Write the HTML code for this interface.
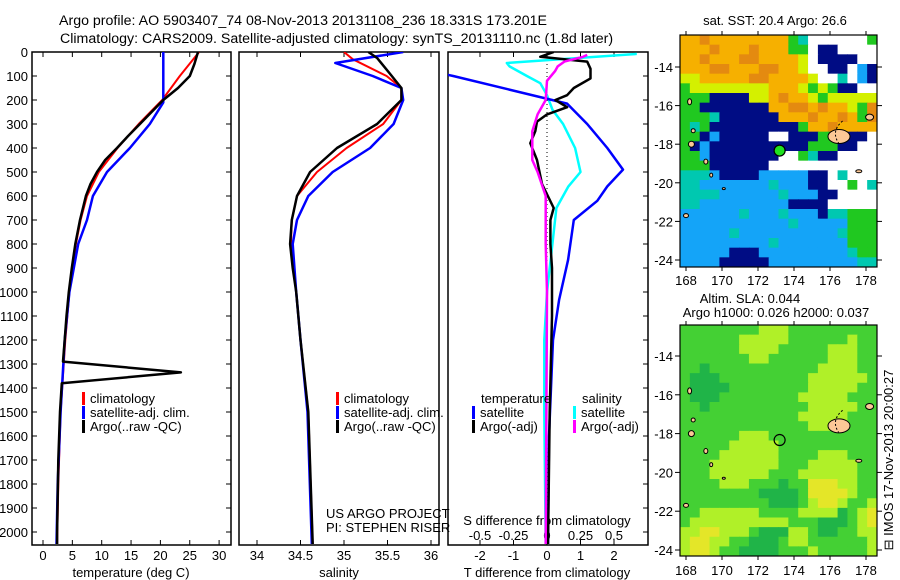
<!DOCTYPE html>
<html><head><meta charset="utf-8"><style>
html,body{margin:0;padding:0;background:#fff}
svg{display:block;font-family:"Liberation Sans",sans-serif}
</style></head><body>
<svg id="c" width="900" height="580" viewBox="0 0 900 580">
<defs>
<clipPath id="cp1"><rect x="32" y="52" width="199" height="493"/></clipPath>
<clipPath id="cp2"><rect x="239" y="52" width="200" height="493"/></clipPath>
<clipPath id="cp3"><rect x="448" y="52" width="200" height="493"/></clipPath>
<clipPath id="cm1"><rect x="680" y="35" width="197" height="232"/></clipPath>
<clipPath id="cm2"><rect x="680" y="325" width="197" height="231"/></clipPath>
</defs>
<text x="59" y="25" font-size="14.2">Argo profile: AO 5903407_74 08-Nov-2013 20131108_236 18.331S 173.201E</text>
<text x="60" y="43" font-size="14.2">Climatology: CARS2009. Satellite-adjusted climatology: synTS_20131110.nc (1.8d later)</text>
<g id="g"></g>
</svg>
<script>
// ---- data ----
const climDepth=[0,100,200,300,400,500,600,700,800,1000,1200,1500,1800,2050];
const climT=[26.6,23.3,20.3,16.3,12.7,9.5,7.5,6.4,5.6,4.5,3.8,3.0,2.6,2.4];
const satDepth=[0,210,300,400,500,600,700,800,1000,1200,1500,1800,2050];
const satT=[20.5,20.5,18.2,14.8,10.9,8.5,7.5,6.0,4.5,3.7,3.0,2.5,2.3];
const argoTDepth=[0,50,100,150,200,250,300,350,400,450,500,550,600,700,800,900,1000,1100,1200,1290,1335,1380,1500,1700,2000,2050];
const argoT=[26.4,25.8,25,23,20.5,18.5,16.5,14.5,12.6,10.6,9.2,8.1,7.3,6.3,5.5,4.9,4.4,4.0,3.7,3.4,23.5,3.2,2.9,2.6,2.4,2.4];
const climSDepth=[0,30,100,150,200,300,400,500,600,700,800,1000,1200,1500,2050];
const climS=[35.0,35.1,35.49,35.66,35.66,35.45,35.03,34.69,34.46,34.40,34.39,34.45,34.5,34.59,34.64];
const satSDepth=[0,46,100,150,200,300,400,500,600,700,800,1000,1200,1500,2050];
const satS=[35.68,34.9,35.33,35.66,35.68,35.57,35.3,34.87,34.59,34.46,34.41,34.45,34.5,34.58,34.63];
const argoSDepth=[0,25,100,150,200,300,400,500,600,700,800,900,1000,1200,1500,2050];
const argoS=[35.28,35.38,35.55,35.66,35.66,35.38,34.92,34.61,34.46,34.40,34.38,34.41,34.45,34.5,34.59,34.64];
const dTsatDepth=[0,100,215,300,400,490,560,620,700,866,1033,1200,1400,1600,2050];
const dTsat=[-6.1,-2.8,0.6,1.2,1.8,2.27,1.8,1.5,0.8,0.63,0.36,0.18,0.12,0.06,0.03];
const dTargoDepth=[0,20,40,70,110,150,180,200,230,260,290,330,380,450,550,650,700,800,900,1100,1500,2050];
const dTargo=[0.2,-0.2,1.2,1.3,1.3,0.8,0.6,0.25,0.6,0.0,-0.3,-0.35,-0.5,-0.3,-0.15,0.2,0.1,0.1,0.15,0.15,0.08,0.03];
const dSsatDepth=[8,46,60,100,130,180,240,300,400,500,560,650,800,1000,1200,1500,2050];
const dSsat=[0.67,-0.3,-0.28,-0.15,-0.05,0.0,0.04,0.12,0.21,0.25,0.16,0.07,0.04,0.0,-0.02,-0.02,-0.01];
const dSargoDepth=[12,20,40,60,80,120,200,260,330,400,450,500,600,800,1000,2050];
const dSargo=[0.3,0.27,0.13,0.08,0.06,0.0,-0.01,-0.07,-0.11,-0.11,-0.11,-0.07,-0.01,-0.01,0.0,-0.01];
const depthTicks=[0,100,200,300,400,500,600,700,800,900,1000,1100,1200,1300,1400,1500,1600,1700,1800,1900,2000];
const tTicks=[0,5,10,15,20,25,30];
const sTicks=[34,34.5,35,35.5,36];
const sTickLabels=["34","34.5","35","35.5","36"];
const dTTicks=[-2,-1,0,1,2];
const dSTicks=[-0.5,-0.25,0,0.25,0.5];
const dSTickLabels=["-0.5","-0.25","0","0.25","0.5"];
const lonTicks=[168,170,172,174,176,178];
const latTicks=[-14,-16,-18,-20,-22,-24];
const sstGrid=[
"ooOoooooooogcwwwwwwg","oooOoooOoooggwnnwwww","ooOoooOOooooywnnnnww","oooOOoooOOooywwnnwbn",
"yyoooooOOooooywwcwbn","gyyyyyyyyoooygygnnww","gggnnnnyyoOooygyyyyy","ggnnnnnnnooOOoOooygO",
"gggcnnnnnnoooOooOogO","gcgnnnnnnnnngooOooooO","ggnbnnnnnwwnnnggnnnw","gnbnnnnnnnnnngggnnww",
"ggbnnnnnnnwwgcnnwwww","gggnnnnnnwwwwwwwwwww","cccbnnnnbbbbbnnwcwww","ccbbbbbbbcbbbnnwwgwc",
"ccccbbbbbbcbbbnnwwww","ccbbbbbbbbbnnnnwwwww","bbbbbbcbbbcbbbnccggg","bbbbbbbbbbbcbbbbbggg",
"bbbbbcbbbbbbbbbbcggg","bbbbbbbbbcbbbbbbbggg","bbbbbnnnbbbbbbbbbcgg","bbbbnnnnnbbbbbbbbbcc"];
const slaGrid=[
"gggggggglllggggggggg","gggggglllllgggggglgg","ggggggllllggggglllgg","gggggggllgggggglllgg",
"ggdgggggggggggllllgg","gdddgggggggggllllllg","gddddgggggggglllllgg","gdddgggggggglllllggg",
"ggdgggggggggglllllgg","gggggggggggglllllggg","ggggggggggggglllgggg","gggggglllggggggggggg",
"ggggglllllgggggggggg","ggggllllllgggglllggg","ggglllllllggglllllgg","gggllllllgggllllllgg",
"gggglllgggdggyyyllgg","ggggggggddddgyyyylgg","gggggggggdddglyylggl","ggllllllgggglllldgly",
"gllllllllllgggdddgly","llyylllgdddllgddggll","lyyllggdddgllggggggl","lyylggddddggglgggggl"];
const argoLon=173.201, argoLat=-18.331;

// ---- helpers ----
const NS="http://www.w3.org/2000/svg";
const G=document.getElementById('g');
function mk(t,a,p){const e=document.createElementNS(NS,t);for(const k in a)e.setAttribute(k,a[k]);(p||G).appendChild(e);return e;}
const yD=d=>52+d*0.24;
const xT=v=>43+5.87*v;
const xS=v=>257+87*(v-34);
const xdT=v=>547+33.5*v;
const xdS=v=>547+134*v;
const m1x=lon=>686+18*(lon-168), m1y=lat=>67+19.3*(-14-lat);
const m2x=m1x, m2y=lat=>356+19.4*(-14-lat);
function line(xs,ds,fx,col,w,clip,name){
  const pts=xs.map((v,i)=>fx(v).toFixed(1)+','+yD(ds[i]).toFixed(1)).join(' ');
  const e=mk('polyline',{points:pts,fill:'none',stroke:col,'stroke-width':w,'clip-path':'url(#'+clip+')','stroke-linejoin':'round'});
  
  
}
function txt(x,y,s,opt){const e=mk('text',Object.assign({x:x,y:y,'font-size':13},opt||{}));e.textContent=s;return e;}

// ---- panel frames ----
const panels=[[32,231,'temperature-panel'],[239,439,'salinity-panel'],[448,648,'difference-panel']];
panels.forEach(p=>{const r=mk('rect',{x:p[0],y:52,width:p[1]-p[0],height:493,fill:'none',stroke:'#000','stroke-width':1.5});
 });
depthTicks.forEach(d=>{const y=yD(d);
 mk('line',{x1:32,x2:37,y1:y,y2:y,stroke:'#000'});mk('line',{x1:226,x2:231,y1:y,y2:y,stroke:'#000'});
 mk('line',{x1:643,x2:648,y1:y,y2:y,stroke:'#000'});
 const t=txt(28,y+5,String(d),{'text-anchor':'end'});
 });
tTicks.forEach(v=>{const x=xT(v);mk('line',{x1:x,x2:x,y1:545,y2:540,stroke:'#000'});mk('line',{x1:x,x2:x,y1:52,y2:57,stroke:'#000'});
 const t=txt(x,560,String(v),{'text-anchor':'middle'});});
sTicks.forEach((v,i)=>{const x=xS(v);mk('line',{x1:x,x2:x,y1:545,y2:540,stroke:'#000'});mk('line',{x1:x,x2:x,y1:52,y2:57,stroke:'#000'});
 const t=txt(x,560,sTickLabels[i],{'text-anchor':'middle'});});
dTTicks.forEach(v=>{const x=xdT(v);mk('line',{x1:x,x2:x,y1:545,y2:540,stroke:'#000'});mk('line',{x1:x,x2:x,y1:52,y2:57,stroke:'#000'});
 const t=txt(x,560,String(v),{'text-anchor':'middle'});});
dSTicks.forEach((v,i)=>{const x=xdS(v);
 const t=txt(x,540,dSTickLabels[i],{'text-anchor':'middle'});});
mk('line',{x1:547,x2:547,y1:52,y2:545,stroke:'#000','stroke-dasharray':'1,3'});
[[131,577,'temperature (deg C)','temperature-axis-title'],[339,577,'salinity','salinity-axis-title'],[547,577,'T difference from climatology','t-diff-axis-title'],[547,525,'S difference from climatology','s-diff-axis-title']].forEach(a=>{
 const t=txt(a[0],a[1],a[2],{'text-anchor':'middle'});});

// ---- series ----
line(climT,climDepth,xT,'#f00',2,'cp1','climatology-temperature-line');
line(satT,satDepth,xT,'#00f',2.5,'cp1','satellite-temperature-line');
line(argoT,argoTDepth,xT,'#000',2.5,'cp1','argo-temperature-line');
line(climS,climSDepth,xS,'#f00',2,'cp2','climatology-salinity-line');
line(satS,satSDepth,xS,'#00f',2.5,'cp2','satellite-salinity-line');
line(argoS,argoSDepth,xS,'#000',2.5,'cp2','argo-salinity-line');
line(dSsat,dSsatDepth,xdS,'#0ff',2.5,'cp3','satellite-salinity-diff-line');
line(dTsat,dTsatDepth,xdT,'#00f',2.5,'cp3','satellite-temperature-diff-line');
line(dTargo,dTargoDepth,xdT,'#000',2.5,'cp3','argo-temperature-diff-line');
line(dSargo,dSargoDepth,xdS,'#f0f',2.5,'cp3','argo-salinity-diff-line');

// ---- legends ----
function leg(x,y,col,s,name){mk('rect',{x:x,y:y-11,width:3,height:13,fill:col});
 const t=txt(x+8,y,s);}
leg(82,403,'#f00','climatology','legend-climatology');leg(82,417,'#00f','satellite-adj. clim.','legend-satellite');leg(82,431,'#000','Argo(..raw -QC)','legend-argo');
leg(336,403,'#f00','climatology','legend-climatology-2');leg(336,417,'#00f','satellite-adj. clim.','legend-satellite-2');leg(336,431,'#000','Argo(..raw -QC)','legend-argo-2');
{const t=txt(481,403,'temperature');}
{const t=txt(582,403,'salinity');}
leg(472,417,'#00f','satellite','legend-t-satellite');leg(472,431,'#000','Argo(-adj)','legend-t-argo');
leg(573,417,'#0ff','satellite','legend-s-satellite');leg(573,431,'#f0f','Argo(-adj)','legend-s-argo');
{const t=txt(326,518,'US ARGO PROJECT');}
{const t=txt(326,532,'PI: STEPHEN RISER');}

// ---- maps ----
const sstCol={o:'#f6b000',O:'#e48a10',y:'#d4f000',g:'#20c820',c:'#00c8b0',b:'#14a4f8',n:'#000c84',w:'#ffffff'};
const slaCol={g:'#44d034',l:'#b0f028',d:'#20b448',y:'#e4e628'};
function heat(grid,cols,x0,y0,w,h,clip,name){
 const cw=w/grid[0].length,ch=h/grid.length;
 grid.forEach((row,r)=>{for(let c=0;c<row.length;c++){
  const e=mk('rect',{x:(x0+c*cw).toFixed(2),y:(y0+r*ch).toFixed(2),width:(cw+0.6).toFixed(2),height:(ch+0.6).toFixed(2),fill:cols[row[c]],'clip-path':'url(#'+clip+')'});
  
  }});
}
heat(sstGrid,sstCol,680,35,197,232,'cm1','sst-cell');
heat(slaGrid,slaCol,680,325,197,231,'cm2','sla-cell');
function islands(fy,clip,name){
 const isl=[[176.5,-17.6,11,7],[178.2,-16.6,4,3],[177.6,-19.4,3,1.5],[168.2,-15.8,2,3],[168.4,-17.3,2,2],[168.3,-18.0,3,3],[169.1,-18.9,2,2.5],[169.4,-19.6,1.5,2],[170.1,-20.3,1.5,1],[168,-21.7,2.5,2]];
 isl.forEach(a=>{const e=mk('ellipse',{cx:m1x(a[0]),cy:fy(a[1]),rx:a[2],ry:a[3],fill:'#fcc896',stroke:'#000','stroke-width':1,'clip-path':'url(#'+clip+')'});
  });
 mk('path',{d:`M${m1x(176.7)} ${fy(-16.8)} q -12 10 -4 22`,fill:'none',stroke:'#000','stroke-dasharray':'2,2','clip-path':'url(#'+clip+')'});
}
islands(m1y,'cm1','sst-island');islands(m2y,'cm2','sla-island');
{const e=mk('circle',{cx:m1x(argoLon),cy:m1y(argoLat),r:5.5,fill:'#20e020',stroke:'#000','stroke-width':1.2});}
{const e=mk('circle',{cx:m2x(argoLon),cy:m2y(argoLat),r:5.5,fill:'none',stroke:'#000','stroke-width':1.2});}
[[680,35,232,m1y,'sst-map-frame',285],[680,325,231,m2y,'sla-map-frame',575]].forEach(m=>{
 const r=mk('rect',{x:m[0],y:m[1],width:197,height:m[2],fill:'none',stroke:'#000','stroke-width':1.2});
 
 latTicks.forEach(l=>{const y=m[3](l);mk('line',{x1:675,x2:680,y1:y,y2:y,stroke:'#000'});mk('line',{x1:877,x2:882,y1:y,y2:y,stroke:'#000'});
  const t=txt(673,y+5,String(l),{'text-anchor':'end'});});
 lonTicks.forEach(l=>{const x=m1x(l),yb=m[1]+m[2];mk('line',{x1:x,x2:x,y1:yb,y2:yb+4,stroke:'#000'});mk('line',{x1:x,x2:x,y1:m[1],y2:m[1]-4,stroke:'#000'});
  const t=txt(x,m[5],String(l),{'text-anchor':'middle'});});
});
{const t=txt(775,25,'sat. SST: 20.4 Argo: 26.6',{'text-anchor':'middle'});}
{const t=txt(750,303,'Altim. SLA: 0.044',{'text-anchor':'middle'});}
{const t=txt(776,317,'Argo h1000: 0.026 h2000: 0.037',{'text-anchor':'middle'});}
{const t=txt(0,0,'\u229F IMOS 17-Nov-2013 20:00:27',{transform:'translate(893,460) rotate(-90)','text-anchor':'middle'});}
</script>
</body></html>
